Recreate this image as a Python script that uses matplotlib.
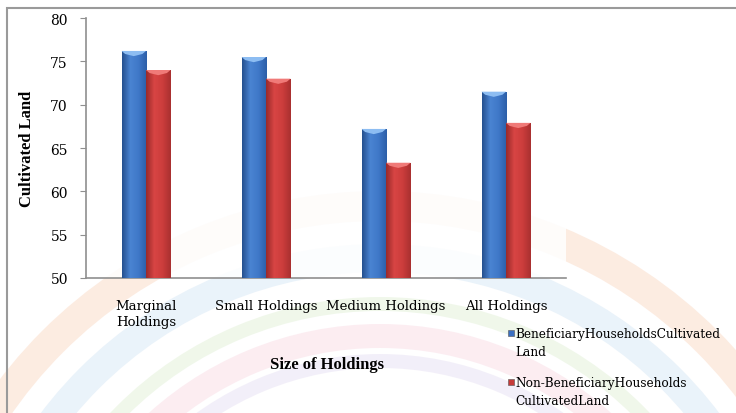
import numpy as np
import matplotlib
matplotlib.use("Agg")
import matplotlib.pyplot as plt
from matplotlib.colors import LinearSegmentedColormap
from matplotlib.patches import Wedge, Rectangle, Polygon

categories = ["Marginal\nHoldings", "Small Holdings", "Medium Holdings", "All Holdings"]
beneficiary = [76.2, 75.5, 67.2, 71.5]
non_beneficiary = [74.0, 73.0, 63.3, 67.9]
series_labels = ["BeneficiaryHouseholdsCultivated\nLand",
                 "Non-BeneficiaryHouseholds\nCultivatedLand"]
yticks = [50, 55, 60, 65, 70, 75, 80]

blue = "#3b70c2"
red = "#c63b3a"
blue_cmap = LinearSegmentedColormap.from_list("b", ["#25508f", "#4a84d2", "#3f78c8", "#2c5ea8"])
red_cmap = LinearSegmentedColormap.from_list("r", ["#9a2a2a", "#d84544", "#cc3d3c", "#a93030"])

serif = "DejaVu Serif"
tnr = "Liberation Serif"

fig = plt.figure(figsize=(7.36, 4.14), dpi=100)
fig.patch.set_facecolor("white")

# faint rainbow arcs behind everything
bg = fig.add_axes([0, 0, 1, 1], zorder=-5)
bg.set_xlim(0, 736)
bg.set_ylim(414, 0)
bg.axis("off")
arcs = [(478, 30, "#f6b48a", 0.25),
        (425, 28, "#b5d4ee", 0.28),
        (372, 14, "#c4e2ae", 0.25),
        (345, 24, "#f4b8cb", 0.25),
        (315, 14, "#cfc2e8", 0.25)]
for r, w, c, a in arcs:
    bg.add_patch(Wedge((380, 670), r, 0, 360, width=w, facecolor=c, edgecolor="none", alpha=a))

# outer frame
fig.add_artist(Rectangle((7 / 736, -0.2), 1.2, 1.2 - 9 / 414, transform=fig.transFigure,
                         fill=False, edgecolor="#9a9a9a", lw=1.5))

ax = fig.add_axes([86 / 736, 135 / 414, 480 / 736, 260 / 414])
ax.set_facecolor((1, 1, 1, 0.85))

x = np.arange(len(categories))
w = 0.204
b1 = ax.bar(x - w / 2, beneficiary, w, color=blue, zorder=2)
b2 = ax.bar(x + w / 2, non_beneficiary, w, color=red, zorder=2)

# cylinder shading and bevelled tops
grad = np.linspace(0, 1, 64)[None, :]
for bars, cmap, cap in [(b1, blue_cmap, "#8dbdf2"), (b2, red_cmap, "#f07a78")]:
    for p in bars:
        x0 = p.get_x()
        x1 = x0 + p.get_width()
        h = p.get_height()
        im = ax.imshow(grad, cmap=cmap, extent=(x0, x1, 50, h), aspect="auto", zorder=3)
        im.set_clip_path(p)
        ax.add_patch(Polygon([(x0, h), (x1, h), (x1 - 0.03, h - 0.35),
                              ((x0 + x1) / 2, h - 0.6), (x0 + 0.03, h - 0.35)],
                             closed=True, facecolor=cap, edgecolor="none", zorder=4))

ax.set_ylim(50, 80)
ax.set_xlim(-0.5, len(categories) - 0.5)

for s in ["top", "right"]:
    ax.spines[s].set_visible(False)
for s in ["left", "bottom"]:
    ax.spines[s].set_color("#8f8f8f")
    ax.spines[s].set_linewidth(1.2)

ax.set_yticks(yticks)
ax.set_xticks(x)
ax.set_xticklabels(categories, fontfamily=serif, fontsize=9.5, linespacing=1.3)
ax.tick_params(axis="x", length=0, pad=15)
ax.tick_params(axis="y", length=4, color="#8f8f8f", pad=9, direction="out")
for t in ax.get_yticklabels():
    t.set_fontfamily(serif)
    t.set_fontsize(10)

ax.set_ylabel("Cultivated Land", fontfamily=tnr, fontweight="bold", fontsize=12)
ax.yaxis.set_label_coords(-0.106, 0.5)
ax.set_xlabel("Size of Holdings", fontfamily=tnr, fontweight="bold", fontsize=12)
ax.xaxis.set_label_coords(0.502, -0.30)

# legend drawn at the right under the axis
for (ypix, col, lab) in [(334, blue, series_labels[0]), (383, red, series_labels[1])]:
    fig.add_artist(Rectangle((508 / 736, 1 - (ypix + 3) / 414), 6 / 736, 6 / 414,
                             transform=fig.transFigure, facecolor=col, edgecolor="#555555", lw=0.4))
    fig.text(515 / 736, 1 - (ypix - 6) / 414, lab, fontfamily=serif, fontsize=8.7,
             va="top", ha="left", linespacing=1.55)

fig.savefig("out.png", dpi=100)
